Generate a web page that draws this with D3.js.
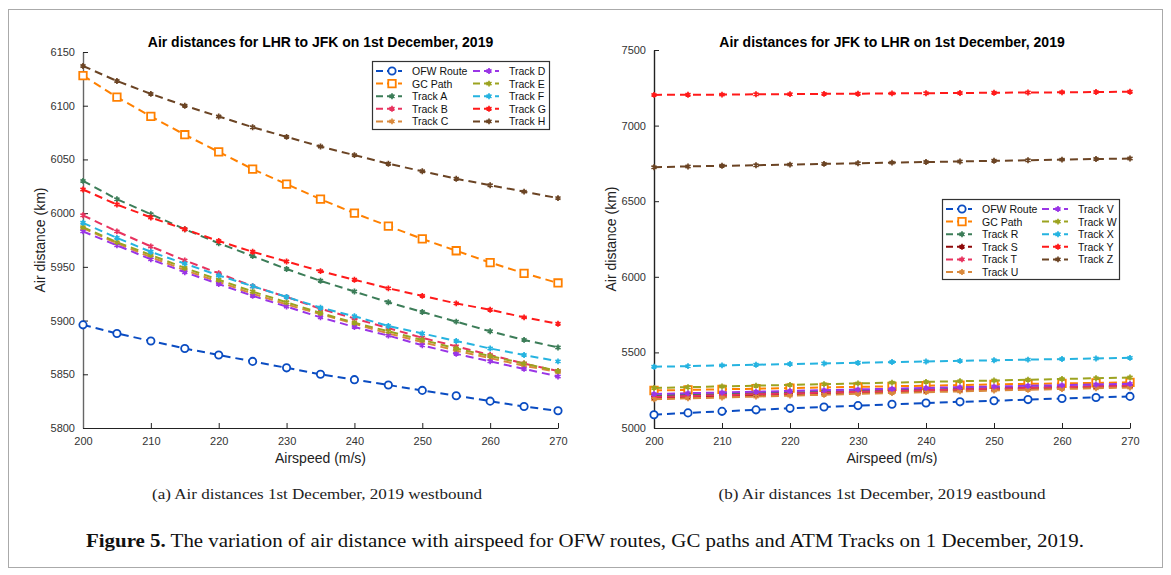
<!DOCTYPE html>
<html>
<head>
<meta charset="utf-8">
<script src="https://cdn.jsdelivr.net/npm/d3@7"></script>
<style>
  body { margin: 0; background: #fff; }
  svg { display: block; }
  .tick text { font-family: "Liberation Sans", Arial, sans-serif; font-size: 11px; fill: #333; }
  .title { font-family: "Liberation Sans", Arial, sans-serif; font-size: 14px; font-weight: bold; }
  .alabel { font-family: "Liberation Sans", Arial, sans-serif; font-size: 14px; fill: #222; }
  .leg text { font-family: "Liberation Sans", Arial, sans-serif; font-size: 10.5px; fill: #111; }
  .cap { font-family: "Liberation Serif", "Times New Roman", serif; }
</style>
</head>
<body>
<svg id="fig" width="1171" height="575"></svg>
<script>
var airspeed = [200, 205, 210, 215, 220, 225, 230, 235, 240, 245, 250, 255, 260, 265, 270];
var xTicks = [200, 210, 220, 230, 240, 250, 260, 270];

// westbound LHR -> JFK (km)
var ofwWest = [5896, 5888, 5881, 5874, 5868, 5862, 5856, 5850, 5845, 5840, 5835, 5830, 5825, 5820, 5816];
var gcWest = [6128, 6108, 6090, 6073, 6057, 6041, 6027, 6013, 6000, 5988, 5976, 5965, 5954, 5944, 5935];
var trackA = [6030, 6013, 5999, 5985, 5972, 5960, 5948, 5937, 5927, 5917, 5908, 5899, 5890, 5882, 5875];
var trackB = [5998, 5983, 5969, 5956, 5944, 5932, 5922, 5911, 5902, 5893, 5884, 5876, 5868, 5860, 5853];
var trackC = [5986, 5972, 5959, 5947, 5936, 5925, 5915, 5906, 5897, 5888, 5880, 5872, 5865, 5858, 5852];
var trackD = [5983, 5970, 5957, 5945, 5934, 5923, 5913, 5903, 5894, 5886, 5877, 5869, 5862, 5855, 5848];
var trackE = [5987, 5973, 5961, 5949, 5938, 5927, 5917, 5907, 5898, 5890, 5882, 5874, 5867, 5860, 5853];
var trackF = [5991, 5977, 5964, 5953, 5942, 5932, 5922, 5912, 5904, 5895, 5888, 5881, 5874, 5868, 5862];
var trackG = [6022, 6008, 5996, 5985, 5974, 5964, 5955, 5946, 5938, 5930, 5923, 5916, 5910, 5903, 5897];
var trackH = [6137, 6123, 6111, 6100, 6090, 6080, 6071, 6062, 6054, 6046, 6039, 6032, 6026, 6020, 6014];

// eastbound JFK -> LHR (km)
var ofwEast = [5088, 5100, 5110, 5120, 5130, 5139, 5148, 5157, 5165, 5173, 5180, 5188, 5195, 5202, 5209];
var gcEast = [5248, 5252, 5256, 5260, 5264, 5268, 5272, 5276, 5280, 5284, 5288, 5292, 5295, 5298, 5302];
var trackR = [5215, 5220, 5225, 5230, 5235, 5240, 5245, 5250, 5255, 5260, 5264, 5268, 5272, 5276, 5280];
var trackS = [5200, 5206, 5212, 5218, 5224, 5230, 5235, 5240, 5246, 5251, 5256, 5261, 5266, 5271, 5276];
var trackT = [5205, 5211, 5217, 5223, 5228, 5234, 5239, 5244, 5250, 5255, 5260, 5265, 5270, 5275, 5280];
var trackU = [5190, 5196, 5202, 5208, 5214, 5220, 5226, 5232, 5237, 5242, 5248, 5253, 5258, 5263, 5268];
var trackV = [5225, 5230, 5235, 5240, 5245, 5250, 5255, 5260, 5265, 5270, 5274, 5279, 5283, 5288, 5292];
var trackW = [5265, 5270, 5275, 5280, 5285, 5290, 5295, 5300, 5305, 5310, 5314, 5319, 5324, 5329, 5334];
var trackX = [5405, 5409, 5414, 5418, 5423, 5427, 5431, 5436, 5440, 5444, 5448, 5452, 5456, 5460, 5464];
var trackY = [7203, 7204, 7205, 7207, 7208, 7210, 7211, 7213, 7214, 7216, 7217, 7219, 7220, 7222, 7224];
var trackZ = [6725, 6730, 6734, 6738, 6742, 6747, 6751, 6755, 6759, 6763, 6767, 6771, 6775, 6779, 6782];

var westTicks = [5800, 5850, 5900, 5950, 6000, 6050, 6100, 6150];
var eastTicks = [5000, 5500, 6000, 6500, 7000, 7500];

(function Figure() {
  var svg = d3.select("#fig");

  svg.append("rect")
    .attr("x", 8.5).attr("y", 9.5)
    .attr("width", 1154).attr("height", 558)
    .attr("fill", "none").attr("stroke", "#aaa");

  var blue = "#0a4cc2", orange = "#ff8000", green = "#3c7d58", pink = "#e8335f",
    tan = "#d9893c", purple = "#9a35e6", olive = "#9ca320", cyan = "#25b3e0",
    red = "#ff1a1a", brown = "#6b4424", darkred = "#8e0a0a";

  function marker(type) {
    if (type === "circle") return d3.symbol().type(d3.symbolCircle).size(42)();
    if (type === "square") return d3.symbol().type(d3.symbolSquare).size(56)();
    return d3.symbol().type(d3.symbolAsterisk).size(24)();
  }

  function panel(opt) {
    var x = d3.scaleLinear().domain([200, 270]).range([opt.left, opt.right]);
    var y = d3.scaleLinear().domain(opt.yDomain).range([opt.bottom, opt.top]);
    var g = svg.append("g");

    g.append("g")
      .attr("transform", "translate(0," + opt.bottom + ")")
      .call(d3.axisBottom(x).tickValues(xTicks).tickFormat(d3.format("d"))
        .tickSize(-5).tickPadding(9).tickSizeOuter(0))
      .call(function (a) {
        a.select(".domain").attr("stroke", "#222").attr("stroke-width", 1.2);
        a.selectAll(".tick line").attr("stroke", "#222");
      });
    g.append("g")
      .attr("transform", "translate(" + opt.left + ",0)")
      .call(d3.axisLeft(y).tickValues(opt.yTicks).tickFormat(d3.format("d"))
        .tickSize(-5).tickPadding(8).tickSizeOuter(0))
      .call(function (a) {
        a.select(".domain").attr("stroke", opt.yAxisColor).attr("stroke-width", 1.4);
        a.selectAll(".tick line").attr("stroke", "#222");
      });

    g.append("text").attr("class", "title")
      .attr("x", (opt.left + opt.right) / 2).attr("y", 47)
      .attr("text-anchor", "middle").text(opt.title);
    g.append("text").attr("class", "alabel")
      .attr("x", (opt.left + opt.right) / 2).attr("y", 463)
      .attr("text-anchor", "middle").text("Airspeed (m/s)");
    g.append("text").attr("class", "alabel")
      .attr("transform", "translate(" + (opt.left - 38) + "," + ((opt.top + opt.bottom) / 2) + ") rotate(-90)")
      .attr("text-anchor", "middle").text("Air distance (km)");

    var line = d3.line()
      .x(function (d, i) { return x(airspeed[i]); })
      .y(function (d) { return y(d); });

    opt.series.forEach(function (s) {
      var sg = g.append("g");
      sg.append("path")
        .attr("d", line(s.values))
        .attr("fill", "none")
        .attr("stroke", s.color)
        .attr("stroke-width", 2)
        .attr("stroke-dasharray", "8,5");
      sg.selectAll("path.m")
        .data(s.values)
        .enter().append("path")
          .attr("class", "m")
          .attr("transform", function (d, i) { return "translate(" + x(airspeed[i]) + "," + y(d) + ")"; })
          .attr("d", marker(s.marker))
          .attr("fill", s.marker === "star" ? "none" : "#fff")
          .attr("stroke", s.color)
          .attr("stroke-width", s.marker === "star" ? 1.7 : 1.8);
    });

    // legend
    var leg = g.append("g").attr("class", "leg");
    leg.append("rect")
      .attr("x", opt.legend.x + 0.5).attr("y", opt.legend.y + 0.5)
      .attr("width", opt.legend.w).attr("height", opt.legend.h)
      .attr("fill", "#fff").attr("stroke", "#333").attr("stroke-width", 1.2);
    opt.series.forEach(function (s, i) {
      var col = i < opt.legend.perCol ? 0 : 1,
        row = col ? i - opt.legend.perCol : i,
        lx = opt.legend.x + 4 + col * opt.legend.colW,
        ly = opt.legend.y + 10 + row * opt.legend.rowH;
      leg.append("line")
        .attr("x1", lx).attr("x2", lx + 26).attr("y1", ly).attr("y2", ly)
        .attr("stroke", s.color).attr("stroke-width", 2)
        .attr("stroke-dasharray", "7,4");
      leg.append("path")
        .attr("transform", "translate(" + (lx + 16) + "," + ly + ")")
        .attr("d", marker(s.marker))
        .attr("fill", s.marker === "star" ? "none" : "#fff")
        .attr("stroke", s.color)
        .attr("stroke-width", s.marker === "star" ? 1.7 : 1.8);
      leg.append("text")
        .attr("x", lx + 36).attr("y", ly + 4)
        .text(s.name);
    });
  }

  panel({
    left: 83, right: 558, top: 52, bottom: 428,
    yDomain: [5800, 6150], yTicks: westTicks, yAxisColor: "#666",
    title: "Air distances for LHR to JFK on 1st December, 2019",
    legend: {x: 372, y: 61, w: 177, h: 68, perCol: 5, colW: 97, rowH: 12.6},
    series: [
      {name: "OFW Route", values: ofwWest, color: blue, marker: "circle"},
      {name: "GC Path", values: gcWest, color: orange, marker: "square"},
      {name: "Track A", values: trackA, color: green, marker: "star"},
      {name: "Track B", values: trackB, color: pink, marker: "star"},
      {name: "Track C", values: trackC, color: tan, marker: "star"},
      {name: "Track D", values: trackD, color: purple, marker: "star"},
      {name: "Track E", values: trackE, color: olive, marker: "star"},
      {name: "Track F", values: trackF, color: cyan, marker: "star"},
      {name: "Track G", values: trackG, color: red, marker: "star"},
      {name: "Track H", values: trackH, color: brown, marker: "star"}
    ]
  });

  panel({
    left: 654, right: 1130, top: 50, bottom: 428,
    yDomain: [5000, 7500], yTicks: eastTicks, yAxisColor: "#222",
    title: "Air distances for JFK to LHR on 1st December, 2019",
    legend: {x: 942, y: 199, w: 177, h: 80, perCol: 6, colW: 96, rowH: 12.6},
    series: [
      {name: "OFW Route", values: ofwEast, color: blue, marker: "circle"},
      {name: "GC Path", values: gcEast, color: orange, marker: "square"},
      {name: "Track R", values: trackR, color: green, marker: "star"},
      {name: "Track S", values: trackS, color: darkred, marker: "star"},
      {name: "Track T", values: trackT, color: pink, marker: "star"},
      {name: "Track U", values: trackU, color: tan, marker: "star"},
      {name: "Track V", values: trackV, color: purple, marker: "star"},
      {name: "Track W", values: trackW, color: olive, marker: "star"},
      {name: "Track X", values: trackX, color: cyan, marker: "star"},
      {name: "Track Y", values: trackY, color: red, marker: "star"},
      {name: "Track Z", values: trackZ, color: brown, marker: "star"}
    ]
  });

  svg.append("text").attr("class", "cap")
    .attr("x", 317).attr("y", 499).attr("text-anchor", "middle")
    .attr("font-size", 15).attr("fill", "#222")
    .attr("textLength", 330).attr("lengthAdjust", "spacingAndGlyphs")
    .text("(a) Air distances 1st December, 2019 westbound");
  svg.append("text").attr("class", "cap")
    .attr("x", 882).attr("y", 499).attr("text-anchor", "middle")
    .attr("font-size", 15).attr("fill", "#222")
    .attr("textLength", 327).attr("lengthAdjust", "spacingAndGlyphs")
    .text("(b) Air distances 1st December, 2019 eastbound");

  var fc = svg.append("text").attr("class", "cap")
    .attr("x", 585).attr("y", 547).attr("text-anchor", "middle")
    .attr("font-size", 18.5).attr("fill", "#111")
    .attr("textLength", 998).attr("lengthAdjust", "spacingAndGlyphs");
  fc.append("tspan").attr("font-weight", "bold").text("Figure 5.");
  fc.append("tspan").text(" The variation of air distance with airspeed for OFW routes, GC paths and ATM Tracks on 1 December, 2019.");
})();
</script>
</body>
</html>
